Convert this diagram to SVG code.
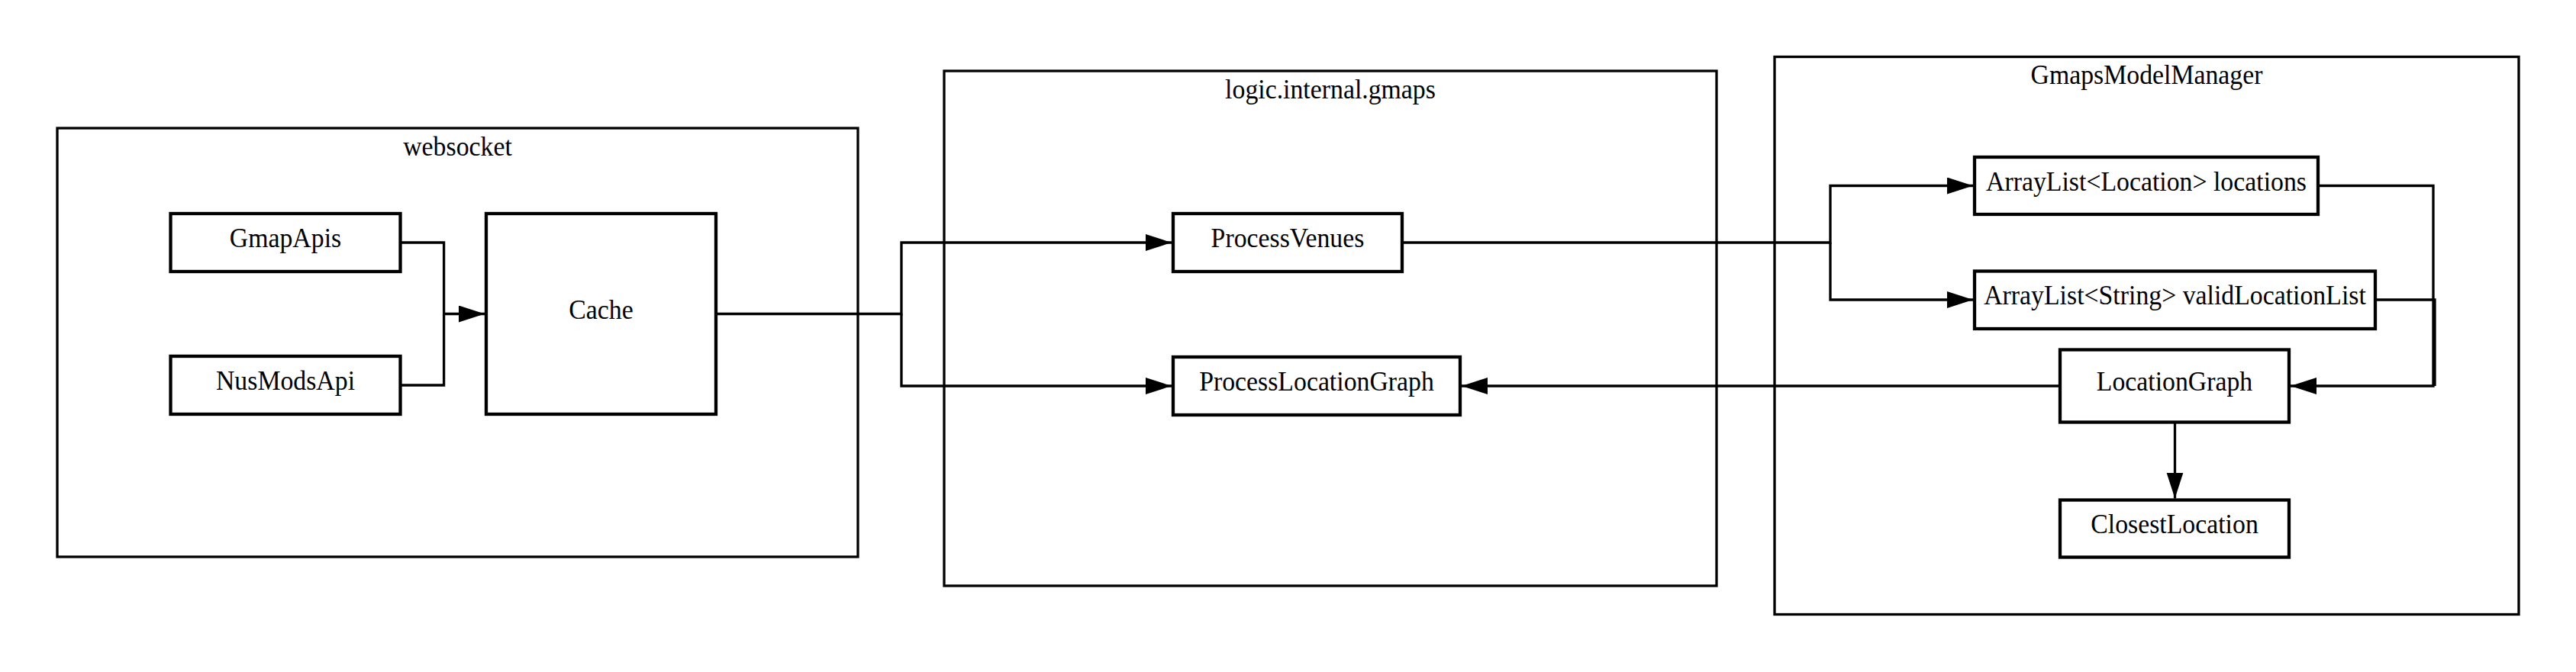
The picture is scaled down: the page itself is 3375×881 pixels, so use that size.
<svg xmlns="http://www.w3.org/2000/svg" width="3375" height="881" viewBox="0 0 3375 881">
<style>
.cluster{fill:none;stroke:#000;stroke-width:3.3}
.node rect{fill:#fff;stroke:#000;stroke-width:4.3}
text{font-family:"Liberation Serif","Times New Roman",serif;font-size:35.5px;text-anchor:middle;fill:#000}
.edges path{fill:none;stroke:#000;stroke-width:3.3}
</style>
<defs>
<marker id="ah" markerUnits="userSpaceOnUse" markerWidth="36" markerHeight="24" refX="34" refY="11" orient="auto" viewBox="0 0 36 24">
<path d="M0,0 L34,11 L0,22 Z" fill="#000"/>
</marker>
</defs>
<rect width="3375" height="881" fill="#fff"/>
<g id="cluster_websocket">
<rect class="cluster" x="75" y="168" width="1049" height="562"/>
<text transform="translate(599.5,204) scale(0.952,1)">websocket</text>
</g>
<g id="cluster_logic">
<rect class="cluster" x="1237" y="93" width="1012" height="675"/>
<text transform="translate(1743,129) scale(0.952,1)">logic.internal.gmaps</text>
</g>
<g id="cluster_gmm">
<rect class="cluster" x="2325" y="74.5" width="975" height="731"/>
<text transform="translate(2812.5,110) scale(0.952,1)">GmapsModelManager</text>
</g>
<g class="edges" id="connectors">
<path d="M524.5,318 H581.6 V411.5 H635" marker-end="url(#ah)"/>
<path d="M524.5,505 H581.6 V411.5"/>
<path d="M939,411.5 H1181 V318 H1535" marker-end="url(#ah)"/>
<path d="M1181,411.5 V506 H1535" marker-end="url(#ah)"/>
<path d="M1837,318 H2398 V243.5 H2585" marker-end="url(#ah)"/>
<path d="M2398,318 V393 H2585" marker-end="url(#ah)"/>
<path d="M3037,243.5 H3188 V506 H3001" marker-end="url(#ah)"/>
<path d="M3112,393 H3190 V506"/>
<path d="M2699,506 H1915" marker-end="url(#ah)"/>
<path d="M2849.5,553.5 V653.5" marker-end="url(#ah)"/>
</g>
<g id="GmapApis" class="node">
<rect x="223.5" y="280" width="301" height="76"/>
<text transform="translate(374,324) scale(0.952,1)">GmapApis</text>
</g>
<g id="NusModsApi" class="node">
<rect x="223.5" y="467" width="301" height="76"/>
<text transform="translate(374,511) scale(0.952,1)">NusModsApi</text>
</g>
<g id="Cache" class="node">
<rect x="637" y="280" width="301" height="263"/>
<text transform="translate(787.5,417.5) scale(0.952,1)">Cache</text>
</g>
<g id="ProcessVenues" class="node">
<rect x="1537" y="280" width="300" height="76"/>
<text transform="translate(1687,324) scale(0.952,1)">ProcessVenues</text>
</g>
<g id="ProcessLocationGraph" class="node">
<rect x="1537" y="468" width="376" height="76"/>
<text transform="translate(1725,512) scale(0.952,1)">ProcessLocationGraph</text>
</g>
<g id="Locations" class="node">
<rect x="2587" y="206" width="450" height="75"/>
<text transform="translate(2812,249.5) scale(0.952,1)">ArrayList&lt;Location&gt; locations</text>
</g>
<g id="ValidLocationList" class="node">
<rect x="2587" y="355.5" width="525" height="75.5"/>
<text transform="translate(2849.5,399) scale(0.952,1)">ArrayList&lt;String&gt; validLocationList</text>
</g>
<g id="LocationGraph" class="node">
<rect x="2699" y="458.5" width="300" height="95"/>
<text transform="translate(2849,512) scale(0.952,1)">LocationGraph</text>
</g>
<g id="ClosestLocation" class="node">
<rect x="2699" y="655.5" width="300" height="75"/>
<text transform="translate(2849,699) scale(0.952,1)">ClosestLocation</text>
</g>
</svg>
